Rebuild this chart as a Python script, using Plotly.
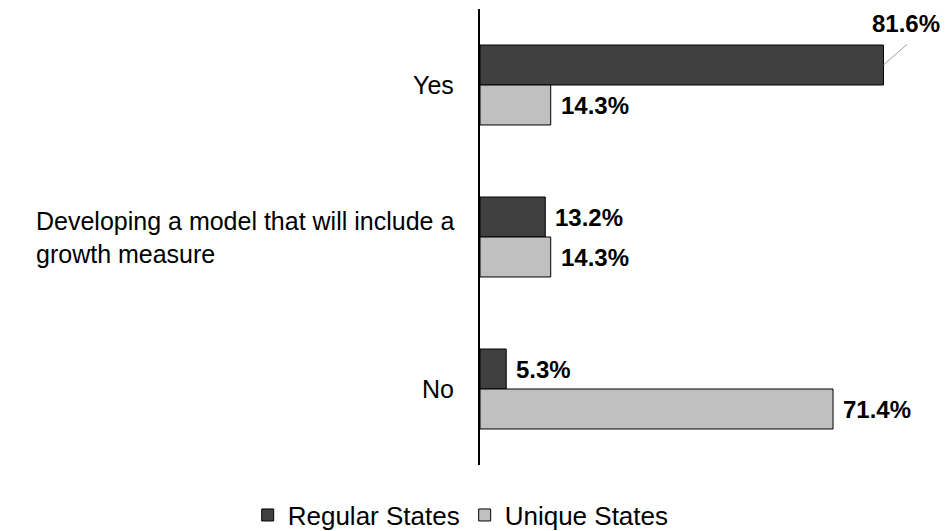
import plotly.graph_objects as go

# Survey responses: does the state model include a growth measure?
categories = ["Yes", "Developing a model that will include a<br>growth measure", "No"]
regular_states = [81.6, 13.2, 5.3]
unique_states = [14.3, 14.3, 71.4]
series_names = ["Regular States", "Unique States"]

FONT = "Liberation Sans, Arial, sans-serif"
DARK = "#404040"
LIGHT = "#C0C0C0"

fig = go.Figure()
for name, vals, color in [(series_names[0], regular_states, DARK),
                          (series_names[1], unique_states, LIGHT)]:
    fig.add_trace(go.Bar(
        y=categories, x=vals, name=name, orientation="h",
        marker=dict(color=color, line=dict(color="#000000", width=1)),
    ))

# Category labels (left-aligned block for the two-line label)
for cat in categories:
    fig.add_annotation(
        x=0, xref="paper", y=cat, yref="y", text=cat,
        xanchor="right", xshift=-24, align="left", showarrow=False,
        font=dict(family=FONT, size=25, color="#000000"),
    )

# Value labels next to each bar
for vals, shift in [(regular_states, 20), (unique_states, -20)]:
    for cat, v in zip(categories, vals):
        label = f"<b>{v:.1f}%</b>"
        if v > 80:
            # label sits above the bar end, joined by a thin leader line
            fig.add_annotation(
                x=v, y=cat, text="", yshift=shift,
                showarrow=True, arrowhead=0, arrowwidth=1, arrowcolor="#A0A0A0",
                ax=25, ay=-22,
            )
            fig.add_annotation(
                x=v, y=cat, text=label, yshift=shift + 42, xshift=23,
                xanchor="center", yanchor="middle", showarrow=False,
                font=dict(family=FONT, size=24, color="#000000"),
            )
        else:
            fig.add_annotation(
                x=v, y=cat, text=label, yshift=shift, xshift=8,
                xanchor="left", yanchor="middle", showarrow=False,
                font=dict(family=FONT, size=24, color="#000000"),
            )

fig.update_layout(
    width=946, height=531,
    margin=dict(l=480, r=21, t=9, b=66),
    paper_bgcolor="white", plot_bgcolor="white",
    barmode="group", bargap=0.474, bargroupgap=0,
    font=dict(family=FONT, size=24, color="#000000"),
    showlegend=True,
    legend=dict(
        orientation="h", xref="container", x=0.487, xanchor="center",
        yref="container", y=0.03, yanchor="middle",
        traceorder="normal", font=dict(family=FONT, size=26),
        itemwidth=30,
    ),
    xaxis=dict(range=[0, 90], visible=False, showgrid=False, zeroline=False),
    yaxis=dict(
        autorange="reversed", showticklabels=False, ticks="",
        showline=True, linecolor="#000000", linewidth=1.5,
        showgrid=False, zeroline=False,
    ),
)

fig.write_html("out.html")
